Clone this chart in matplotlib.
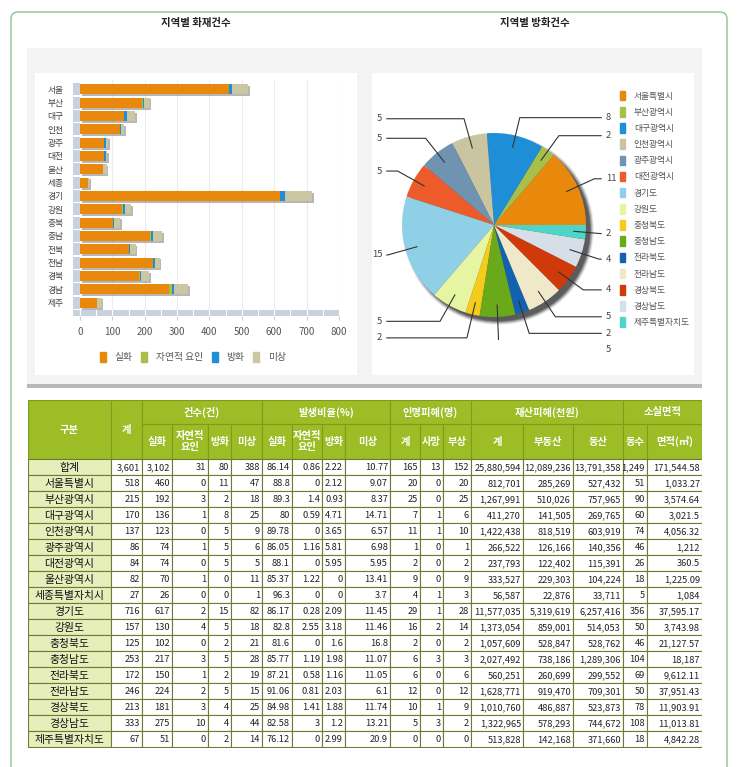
import matplotlib
matplotlib.use('Agg')
import matplotlib.pyplot as plt
import matplotlib.patches as mpatches
import matplotlib.patheffects as pe
import numpy as np

plt.rcParams['font.family'] = ['Noto Sans CJK KR', 'DejaVu Sans']

# ---- data ----
regions = ['합계', '서울특별시', '부산광역시', '대구광역시', '인천광역시', '광주광역시',
           '대전광역시', '울산광역시', '세종특별자치시', '경기도', '강원도', '충청북도',
           '충청남도', '전라북도', '전라남도', '경상북도', '경상남도', '제주특별자치도']
short_names = ['서울', '부산', '대구', '인천', '광주', '대전', '울산', '세종', '경기',
               '강원', '충북', '충남', '전북', '전남', '경북', '경남', '제주']

total = [3601, 518, 215, 170, 137, 86, 84, 82, 27, 716, 157, 125, 253, 172, 246, 213, 333, 67]
accident = [3102, 460, 192, 136, 123, 74, 74, 70, 26, 617, 130, 102, 217, 150, 224, 181, 275, 51]
natural = [31, 0, 3, 1, 0, 1, 0, 1, 0, 2, 4, 0, 3, 1, 2, 3, 10, 0]
arson = [80, 11, 2, 8, 5, 5, 5, 0, 0, 15, 5, 2, 5, 2, 5, 4, 4, 2]
unknown = [388, 47, 18, 25, 9, 6, 5, 11, 1, 82, 18, 21, 28, 19, 15, 25, 44, 14]

pct_accident = [86.14, 88.8, 89.3, 80, 89.78, 86.05, 88.1, 85.37, 96.3, 86.17, 82.8, 81.6,
                85.77, 87.21, 91.06, 84.98, 82.58, 76.12]
pct_natural = [0.86, 0, 1.4, 0.59, 0, 1.16, 0, 1.22, 0, 0.28, 2.55, 0, 1.19, 0.58, 0.81,
               1.41, 3, 0]
pct_arson = [2.22, 2.12, 0.93, 4.71, 3.65, 5.81, 5.95, 0, 0, 2.09, 3.18, 1.6, 1.98, 1.16,
             2.03, 1.88, 1.2, 2.99]
pct_unknown = [10.77, 9.07, 8.37, 14.71, 6.57, 6.98, 5.95, 13.41, 3.7, 11.45, 11.46, 16.8,
               11.07, 11.05, 6.1, 11.74, 13.21, 20.9]

casualty = [165, 20, 25, 7, 11, 1, 2, 9, 4, 29, 16, 2, 6, 6, 12, 10, 5, 0]
deaths = [13, 0, 0, 1, 1, 0, 0, 0, 1, 1, 2, 0, 3, 0, 0, 1, 3, 0]
injured = [152, 20, 25, 6, 10, 1, 2, 9, 3, 28, 14, 2, 3, 6, 12, 9, 2, 0]

damage = [25880594, 812701, 1267991, 411270, 1422438, 266522, 237793, 333527, 56587,
          11577035, 1373054, 1057609, 2027492, 560251, 1628771, 1010760, 1322965, 513828]
damage_real = [12089236, 285269, 510026, 141505, 818519, 126166, 122402, 229303, 22876,
               5319619, 859001, 528847, 738186, 260699, 919470, 486887, 578293, 142168]
damage_movable = [13791358, 527432, 757965, 269765, 603919, 140356, 115391, 104224, 33711,
                  6257416, 514053, 528762, 1289306, 299552, 709301, 523873, 744672, 371660]

buildings = [1249, 51, 90, 60, 74, 46, 26, 18, 5, 356, 50, 46, 104, 69, 50, 78, 108, 18]
area = [171544.58, 1033.27, 3574.64, 3021.5, 4056.32, 1212, 360.5, 1225.09, 1084, 37595.17,
        3743.98, 21127.57, 18187, 9612.11, 37951.43, 11903.91, 11013.81, 4842.28]

bar_series = ['실화', '자연적 요인', '방화', '미상']
bar_colors = ['#e8890c', '#a6c04a', '#1e8fd6', '#cbc7a2']

pie_colors = {'서울특별시': '#e8890c', '부산광역시': '#a6c04a', '대구광역시': '#1e8fd6',
              '인천광역시': '#c9c5a0', '광주광역시': '#6f93b0', '대전광역시': '#ee5b2b',
              '경기도': '#8fd0e6', '강원도': '#e6f5a2', '충청북도': '#f6cc1c',
              '충청남도': '#6aaa1a', '전라북도': '#1262b0', '전라남도': '#efe8c9',
              '경상북도': '#d03a0a', '경상남도': '#d6dfe7', '제주특별자치도': '#4dd6c8'}

W, H = 740, 767
fig = plt.figure(figsize=(W / 100, H / 100), dpi=100)


def px_axes(x0, y0, x1, y1, **kw):
    return fig.add_axes([x0 / W, 1 - y1 / H, (x1 - x0) / W, (y1 - y0) / H], **kw)


# ---- background boxes ----
bg = px_axes(0, 0, W, H)
bg.set_xlim(0, W)
bg.set_ylim(H, 0)
bg.axis('off')
bg.add_patch(mpatches.FancyBboxPatch((11, 12), 716, 790, boxstyle='round,pad=0,rounding_size=7',
                                     fc='white', ec='#8cc48c', lw=1.0))
bg.add_patch(mpatches.Rectangle((27, 383), 675, 5, fc='#b8b8b8', ec='none'))
bg.add_patch(mpatches.Rectangle((27, 48), 675, 336, fc='#f3f3f3', ec='none'))
bg.add_patch(mpatches.Rectangle((35, 73), 322, 302, fc='white', ec='none'))
bg.add_patch(mpatches.Rectangle((372, 73), 322, 302, fc='white', ec='none'))
bg.text(196, 23, '지역별 화재건수', ha='center', va='center', fontsize=7.5,
        fontweight='bold', color='#222')
bg.text(535, 23, '지역별 방화건수', ha='center', va='center', fontsize=7.5,
        fontweight='bold', color='#222')

# ---- stacked bar chart ----
ax = px_axes(73, 80, 339, 316)
ax.set_xlim(-21.6, 800)
ax.set_ylim(17.0, -0.7)
ax.patch.set_alpha(0)
for s in ax.spines.values():
    s.set_visible(False)

ypos = np.arange(len(short_names))
for gx in range(100, 801, 100):
    ax.axvline(gx, ymin=0.03, ymax=1, color='#ececec', lw=0.8, zorder=0)

# side wall and floor
ax.barh(ypos, 19.5, left=-21, height=0.88, color='#c8d2df', zorder=1)
ax.barh([16.75], [821], left=-21, height=0.46, color='#c8d2df', zorder=1)
for gx in range(0, 800, 50):
    ax.plot([gx, gx], [16.52, 16.98], color='white', lw=0.8, zorder=2)

series = [accident[1:], natural[1:], arson[1:], unknown[1:]]
left = np.zeros(len(short_names))
for vals, col, name in zip(series, bar_colors, bar_series):
    ax.barh(ypos, vals, left=left, height=0.76, color=col, zorder=3, label=name)
    left += np.array(vals)
# shadow under the full stack
ax.barh(ypos, left, height=0.76, color='none', zorder=2.9,
        path_effects=[pe.SimplePatchShadow(offset=(1.3, -1.3), alpha=0.4)])

ax.set_yticks(ypos)
ax.set_yticklabels(short_names)
ax.set_xticks(range(0, 801, 100))
ax.tick_params(axis='y', length=0, pad=7, labelsize=6.3, labelcolor='#444')
ax.tick_params(axis='x', length=3, color='#cccccc', pad=5, labelsize=7, labelcolor='#555')

handles = [mpatches.Patch(color=c) for c in bar_colors]
fig.legend(handles, bar_series, loc='center', bbox_to_anchor=(193 / W, 1 - 357 / H), ncol=4,
           frameon=False, fontsize=7, handlelength=0.6, handleheight=1.3,
           columnspacing=0.9, handletextpad=0.9, labelcolor='#555')

# ---- pie chart ----
pie_names = [n for n, a in zip(regions[1:], arson[1:]) if a > 0]
pie_vals = [a for a in arson[1:] if a > 0]
pcols = [pie_colors[n] for n in pie_names]

pax = px_axes(379, 110, 609, 340)
lim = 115 / 79
pax.set_xlim(-lim, lim)
pax.set_ylim(-lim, lim)
pax.axis('off')
for k in range(5):
    pax.add_patch(mpatches.Circle((0.05, -0.05), 0.995 + 0.01 * k, fc='black',
                                  alpha=0.28 - 0.05 * k, ec='none', zorder=0))
wedges, _ = pax.pie(pie_vals, colors=pcols, startangle=0, counterclock=True, radius=1,
                    wedgeprops=dict(linewidth=0))

# label placement with elbows
r_lab, gap, x_end, x_txt, r0 = 1.2, 0.18, 1.165, 1.215, 0.87
labels = []
for w, v in zip(wedges, pie_vals):
    mid = np.deg2rad((w.theta1 + w.theta2) / 2)
    side = 1 if np.cos(mid) >= 0 else -1
    labels.append(dict(mid=mid, side=side, y=r_lab * np.sin(mid), v=v))
for side in (1, -1):
    grp = sorted([l for l in labels if l['side'] == side], key=lambda l: -l['y'])
    for i in range(1, len(grp)):
        if grp[i]['y'] > grp[i - 1]['y'] - gap:
            grp[i]['y'] = grp[i - 1]['y'] - gap
for l in labels:
    mid, side, y = l['mid'], l['side'], l['y']
    sx, sy = r0 * np.cos(mid), r0 * np.sin(mid)
    ex = y * np.cos(mid) / np.sin(mid) if abs(np.sin(mid)) > 1e-6 else side * x_end
    if abs(ex) > x_end:
        ex = side * x_end
    pax.plot([sx, ex, side * x_end], [sy, y, y], color='#333', lw=0.8, zorder=5)
    pax.text(side * x_txt, y, str(l['v']), ha='left' if side > 0 else 'right', va='center',
             fontsize=6.8, color='#444')

ph = [mpatches.Patch(color=c) for c in pcols]
fig.legend(ph, pie_names, loc='upper left', bbox_to_anchor=(612 / W, 1 - 83 / H),
           frameon=False, fontsize=6.3, handlelength=0.6, handleheight=1.3,
           labelspacing=0.74, handletextpad=1.0, labelcolor='#555')

# ---- table ----
tx = px_axes(28, 400, 702, 748)
tx.set_xlim(28, 702)
tx.set_ylim(748, 400)
tx.axis('off')

col_edges = [28, 111, 142, 172, 208, 231, 262, 292, 322, 345, 390, 420, 443, 471, 523, 573,
             623, 647, 702]
hdr_top, hdr_mid, hdr_bot, row_h = 400, 424, 459, 16
head_green, head_line = '#9cbd25', '#7e9c1a'
data_line, first_col = '#6e7b34', '#e6eebb'


def cell(x0, x1, y0, y1, fc, ec):
    tx.add_patch(mpatches.Rectangle((x0, y0), x1 - x0, y1 - y0, fc=fc, ec=ec, lw=0.8))


def htext(x, y, s):
    tx.text(x, y, s, ha='center', va='center', fontsize=7.4, fontweight='bold', color='white',
            linespacing=1.15)


cell(col_edges[0], col_edges[1], hdr_top, hdr_bot, head_green, head_line)
htext((col_edges[0] + col_edges[1]) / 2, (hdr_top + hdr_bot) / 2, '구분')
cell(col_edges[1], col_edges[2], hdr_top, hdr_bot, head_green, head_line)
htext((col_edges[1] + col_edges[2]) / 2, (hdr_top + hdr_bot) / 2, '계')

groups = [('건수(건)', 2, 6), ('발생비율(%)', 6, 10), ('인명피해(명)', 10, 13),
          ('재산피해(천원)', 13, 16), ('소실면적', 16, 18)]
for name, a, b in groups:
    cell(col_edges[a], col_edges[b], hdr_top, hdr_mid, head_green, head_line)
    htext((col_edges[a] + col_edges[b]) / 2, (hdr_top + hdr_mid) / 2, name)

sub_headers = ['실화', '자연적\n요인', '방화', '미상', '실화', '자연적\n요인', '방화', '미상',
               '계', '사망', '부상', '계', '부동산', '동산', '동수', '면적(㎡)']
for i, s in enumerate(sub_headers):
    a = i + 2
    cell(col_edges[a], col_edges[a + 1], hdr_mid, hdr_bot, head_green, head_line)
    htext((col_edges[a] + col_edges[a + 1]) / 2, (hdr_mid + hdr_bot) / 2, s)


def f_int(v):
    return f"{v:,}"


def f_pct(v):
    return f"{v:g}"


def f_area(v):
    if float(v).is_integer():
        return f"{int(v):,}"
    return f"{v:,.2f}".rstrip('0')


columns = [(total, f_int), (accident, f_int), (natural, f_int), (arson, f_int),
           (unknown, f_int), (pct_accident, f_pct), (pct_natural, f_pct), (pct_arson, f_pct),
           (pct_unknown, f_pct), (casualty, f_int), (deaths, f_int), (injured, f_int),
           (damage, f_int), (damage_real, f_int), (damage_movable, f_int), (buildings, f_int),
           (area, f_area)]

for r, name in enumerate(regions):
    y0 = hdr_bot + r * row_h
    y1 = y0 + row_h
    cell(col_edges[0], col_edges[1], y0, y1, first_col, data_line)
    tx.text((col_edges[0] + col_edges[1]) / 2, (y0 + y1) / 2 + 0.5, name, ha='center',
            va='center', fontsize=7.8, color='#111')
    for c, (vals, fmt) in enumerate(columns):
        a = c + 1
        cell(col_edges[a], col_edges[a + 1], y0, y1, 'white', data_line)
        tx.text(col_edges[a + 1] - 2, (y0 + y1) / 2 + 0.5, fmt(vals[r]), ha='right',
                va='center', fontsize=6.7, color='#222')

fig.savefig('out.png', dpi=100)
